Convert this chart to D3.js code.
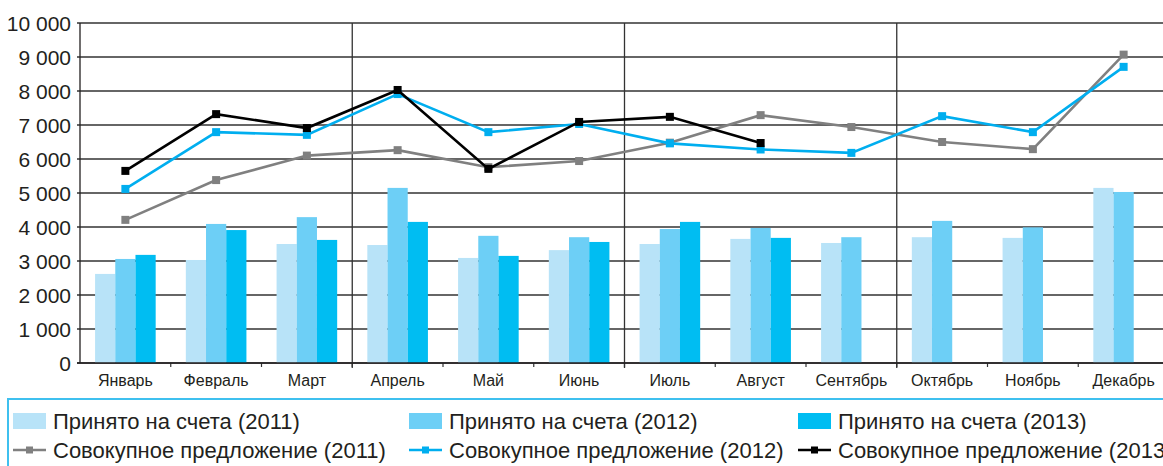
<!DOCTYPE html>
<html>
<head>
<meta charset="utf-8">
<script src="https://cdn.jsdelivr.net/npm/d3@7"></script>
<style>
  body { margin: 0; background: #fff; overflow: hidden; }
  text { font-family: "Liberation Sans", Arial, sans-serif; fill: #231f20; }
</style>
</head>
<body>
<div id="chart"></div>
<script>
(function() {
  var months = ['Январь', 'Февраль', 'Март', 'Апрель', 'Май', 'Июнь', 'Июль', 'Август', 'Сентябрь', 'Октябрь', 'Ноябрь', 'Декабрь']
  var yTicks = [0, 1000, 2000, 3000, 4000, 5000, 6000, 7000, 8000, 9000, 10000]

  // bars: accepted on accounts
  var accepted2011 = [2620, 3030, 3500, 3470, 3090, 3320, 3500, 3650, 3530, 3700, 3680, 5150]
  var accepted2012 = [3060, 4090, 4290, 5150, 3740, 3700, 3940, 3970, 3700, 4180, 3990, 5030]
  var accepted2013 = [3180, 3910, 3620, 4150, 3150, 3560, 4150, 3680, null, null, null, null]

  // lines: total supply
  var supply2011 = [4210, 5380, 6100, 6260, 5760, 5940, 6480, 7290, 6940, 6500, 6290, 9070]
  var supply2012 = [5120, 6790, 6710, 7910, 6790, 7030, 6460, 6280, 6180, 7260, 6790, 8710]
  var supply2013 = [5650, 7320, 6910, 8030, 5710, 7090, 7240, 6470, null, null, null, null]

  var barSeries = [
    { name: 'Принято на счета (2011)', values: accepted2011, color: '#b8e3f8' },
    { name: 'Принято на счета (2012)', values: accepted2012, color: '#6dcff6' },
    { name: 'Принято на счета (2013)', values: accepted2013, color: '#00bdf2' }
  ]
  var lineSeries = [
    { name: 'Совокупное предложение (2011)', values: supply2011, color: '#808080' },
    { name: 'Совокупное предложение (2012)', values: supply2012, color: '#00aeef' },
    { name: 'Совокупное предложение (2013)', values: supply2013, color: '#000000' }
  ]

  var W = 1163, H = 466
  var left = 80, top = 23, bottom = 363
  var monthW = 90.75
  var right = left + monthW * 12

  var svg = d3.select('#chart')
    .append('svg')
    .attr('width', W)
    .attr('height', H)

  var x0 = d3.scaleBand().domain(months).range([left, right])
  var groupW = 60.6
  var x1 = d3.scaleBand().domain(d3.range(3))
    .range([(monthW - groupW) / 2, (monthW + groupW) / 2])
  var y = d3.scaleLinear().domain([0, 10000]).range([bottom, top])

  var fmt = d3.formatLocale({ decimal: ',', thousands: '\u00a0', grouping: [3], currency: ['', ''] }).format(',d')

  // horizontal grid
  svg.append('g')
    .selectAll('line')
    .data(yTicks)
    .join('line')
    .attr('x1', left - 3)
    .attr('x2', W)
    .attr('y1', d => y(d))
    .attr('y2', d => y(d))
    .attr('stroke', '#333')
    .attr('stroke-width', 1.4)

  // y labels
  svg.append('g')
    .selectAll('text')
    .data(yTicks)
    .join('text')
    .attr('x', 71)
    .attr('y', d => y(d))
    .attr('dy', '0.36em')
    .attr('text-anchor', 'end')
    .style('font-size', '21px')
    .text(d => fmt(d))

  // bars
  var groups = svg.append('g')
    .selectAll('g')
    .data(barSeries)
    .join('g')
    .attr('fill', d => d.color)

  groups.selectAll('rect')
    .data((s, si) => s.values.map((v, i) => ({ v: v, m: months[i], si: si })).filter(d => d.v != null))
    .join('rect')
    .attr('x', d => x0(d.m) + x1(d.si))
    .attr('width', x1.bandwidth())
    .attr('y', d => y(d.v))
    .attr('height', d => y(0) - y(d.v))

  // quarter separators
  svg.append('g')
    .selectAll('line')
    .data([3, 6, 9])
    .join('line')
    .attr('x1', d => x0(months[d]))
    .attr('x2', d => x0(months[d]))
    .attr('y1', top)
    .attr('y2', bottom + 5)
    .attr('stroke', '#333')
    .attr('stroke-width', 1.3)

  // month ticks
  svg.append('g')
    .selectAll('line')
    .data(months.slice(1))
    .join('line')
    .attr('x1', d => x0(d))
    .attr('x2', d => x0(d))
    .attr('y1', bottom)
    .attr('y2', bottom + 4)
    .attr('stroke', '#333')
    .attr('stroke-width', 1.2)

  // axes lines
  svg.append('line')
    .attr('x1', left).attr('x2', left)
    .attr('y1', top).attr('y2', bottom)
    .attr('stroke', '#231f20').attr('stroke-width', 1.3)
  svg.append('line')
    .attr('x1', left - 3).attr('x2', W)
    .attr('y1', bottom).attr('y2', bottom)
    .attr('stroke', '#231f20').attr('stroke-width', 1.5)

  // month labels
  svg.append('g')
    .selectAll('text')
    .data(months)
    .join('text')
    .attr('x', d => x0(d) + x0.bandwidth() / 2)
    .attr('y', 380)
    .attr('dy', '0.36em')
    .attr('text-anchor', 'middle')
    .style('font-size', '16px')
    .text(d => d)

  // lines
  var line = d3.line()
    .defined(d => d.v != null)
    .x(d => x0(d.m) + x0.bandwidth() / 2)
    .y(d => y(d.v))

  lineSeries.forEach(function(s) {
    var pts = s.values.map((v, i) => ({ v: v, m: months[i] }))
    var g = svg.append('g')
    g.append('path')
      .attr('d', line(pts))
      .attr('fill', 'none')
      .attr('stroke', s.color)
      .attr('stroke-width', 2.6)
    g.selectAll('rect')
      .data(pts.filter(d => d.v != null))
      .join('rect')
      .attr('x', d => x0(d.m) + x0.bandwidth() / 2 - 4)
      .attr('y', d => y(d.v) - 4)
      .attr('width', 8)
      .attr('height', 8)
      .attr('fill', s.color)
  })

  // legend
  var legend = svg.append('g')
  legend.append('rect')
    .attr('x', 8)
    .attr('y', 399)
    .attr('width', W)
    .attr('height', 100)
    .attr('fill', 'none')
    .attr('stroke', '#3fc0ef')
    .attr('stroke-width', 2)

  var colX = [13, 409, 798]
  var row1 = 421, row2 = 450

  barSeries.forEach(function(s, i) {
    legend.append('rect')
      .attr('x', colX[i])
      .attr('y', row1 - 8)
      .attr('width', 33)
      .attr('height', 16)
      .attr('fill', s.color)
    legend.append('text')
      .attr('x', colX[i] + 40)
      .attr('y', row1)
      .attr('dy', '0.36em')
      .style('font-size', '22px')
      .text(s.name)
  })

  lineSeries.forEach(function(s, i) {
    legend.append('line')
      .attr('x1', colX[i])
      .attr('x2', colX[i] + 33)
      .attr('y1', row2)
      .attr('y2', row2)
      .attr('stroke', s.color)
      .attr('stroke-width', 2.4)
    legend.append('rect')
      .attr('x', colX[i] + 13)
      .attr('y', row2 - 3.5)
      .attr('width', 7)
      .attr('height', 7)
      .attr('fill', s.color)
    legend.append('text')
      .attr('x', colX[i] + 40)
      .attr('y', row2)
      .attr('dy', '0.36em')
      .style('font-size', '22px')
      .text(s.name)
  })
})()
</script>
</body>
</html>
